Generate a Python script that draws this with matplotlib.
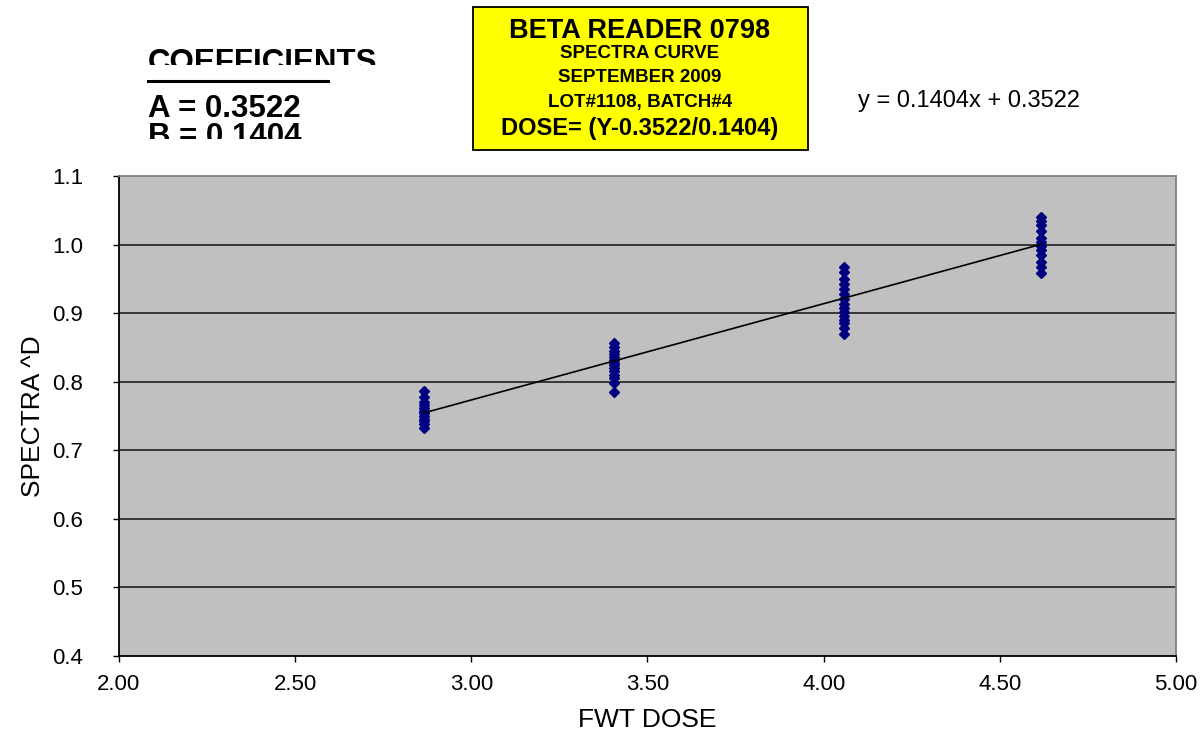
import numpy as np
import matplotlib.pyplot as plt
from matplotlib.patches import Rectangle
from matplotlib.transforms import Bbox

plt.rcParams['font.family'] = ['Liberation Sans', 'DejaVu Sans']

# dose levels and measured spectra readings
dose = [2.865, 3.406, 4.058, 4.617]
spectra = [
    [0.733, 0.738, 0.742, 0.746, 0.750, 0.754, 0.758, 0.762, 0.766, 0.770, 0.778, 0.787],
    [0.785, 0.798, 0.805, 0.810, 0.815, 0.820, 0.824, 0.828, 0.832, 0.836, 0.840, 0.845, 0.850, 0.856],
    [0.869, 0.878, 0.885, 0.890, 0.896, 0.902, 0.908, 0.914, 0.920, 0.928, 0.935, 0.942, 0.950, 0.960, 0.967],
    [0.958, 0.968, 0.975, 0.985, 0.992, 0.998, 1.004, 1.010, 1.020, 1.028, 1.035, 1.040],
]
coef_a = 0.3522
coef_b = 0.1404
xticks = [2.0, 2.5, 3.0, 3.5, 4.0, 4.5, 5.0]
yticks = [0.4, 0.5, 0.6, 0.7, 0.8, 0.9, 1.0, 1.1]

fig = plt.figure(figsize=(12.01, 7.36), dpi=100)
W, H = 1201, 736
ax = fig.add_axes([119 / W, 1 - 656 / H, (1176 - 119) / W, (656 - 176) / H])
ax.set_facecolor('#C0C0C0')

for y in yticks[1:-1]:
    ax.axhline(y, color='#202020', lw=1.2, zorder=1)

for d, vals in zip(dose, spectra):
    ax.plot([d] * len(vals), vals, 'D', color='#000080', ms=5.4, mec='#000080', zorder=3)

xs = np.array([min(dose), max(dose)])
ax.plot(xs, coef_b * xs + coef_a, color='black', lw=1.2, zorder=4)

ax.set_xlim(2.0, 5.0)
ax.set_ylim(0.4, 1.1)
ax.set_xticks(xticks)
ax.set_xticklabels([f'{v:.2f}' for v in xticks])
ax.set_yticks(yticks)
ax.set_yticklabels([f'{v:.1f}' for v in yticks])
ax.tick_params(direction='out', length=4, width=1, labelsize=16)
ax.tick_params(axis='y', pad=22)
ax.tick_params(axis='x', pad=9)
ax.spines['left'].set_color('black')
ax.spines['bottom'].set_color('black')
ax.spines['top'].set_color('#808080')
ax.spines['right'].set_color('#808080')
for s in ax.spines.values():
    s.set_linewidth(1.3)
ax.set_xlabel('FWT DOSE', fontsize=19, labelpad=9)
ax.set_ylabel('SPECTRA ^D', fontsize=19, labelpad=5)


def clipped(x, y, txt, top, bottom, **kw):
    t = fig.text(x / W, 1 - y / H, txt, **kw)
    t.set_clip_box(Bbox([[0, H - bottom], [W, H - top]]))
    t.set_clip_on(True)
    return t


# coefficient block (partly cut off as in the original)
clipped(148, 48, 'COEFFICIENTS', 40, 65, fontsize=22.5, fontweight='bold', va='top')
fig.add_artist(plt.Line2D([148 / W, 328 / W], [1 - 81 / H] * 2, color='black', lw=2.2))
clipped(148, 94, f'A = {coef_a:.4f}', 86, 118, fontsize=22.5, fontweight='bold', va='top')
clipped(148, 122, f'B = {coef_b:.4f}', 118, 139, fontsize=22.5, fontweight='bold', va='top')

# yellow title box
fig.add_artist(Rectangle((473 / W, 1 - 150 / H), (808 - 473) / W, (150 - 7) / H,
                         transform=fig.transFigure, facecolor='#FFFF00',
                         edgecolor='black', lw=1.3))
cx = 640 / W
fig.text(cx, 1 - 31 / H, 'BETA READER 0798', fontsize=19.5, fontweight='bold', ha='center', va='center')
fig.text(cx, 1 - 53 / H, 'SPECTRA CURVE', fontsize=13.5, fontweight='bold', ha='center', va='center')
fig.text(cx, 1 - 77 / H, 'SEPTEMBER 2009', fontsize=13.5, fontweight='bold', ha='center', va='center')
fig.text(cx, 1 - 102 / H, 'LOT#1108, BATCH#4', fontsize=13.5, fontweight='bold', ha='center', va='center')
fig.text(cx, 1 - 129 / H, 'DOSE= (Y-0.3522/0.1404)', fontsize=17, fontweight='bold', ha='center', va='center')

fig.text(858 / W, 1 - 101 / H, f'y = {coef_b}x + {coef_a}', fontsize=17, va='center')

fig.savefig('out.png', dpi=100)
